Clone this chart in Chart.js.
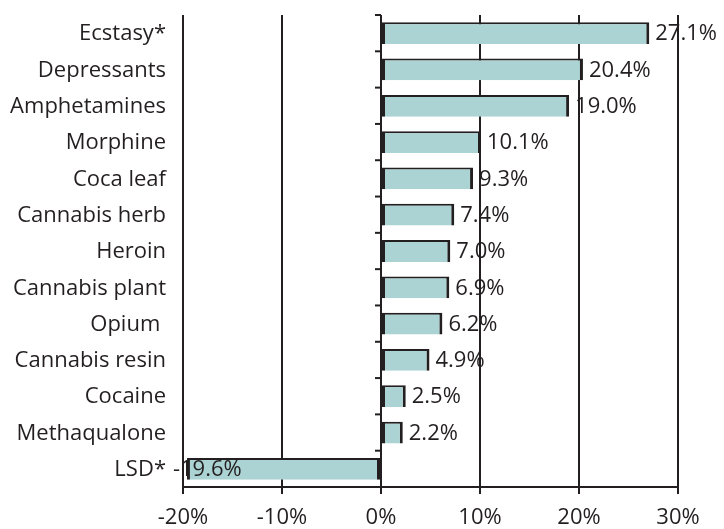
<!DOCTYPE html>
<html>
<head>
<meta charset="utf-8">
<script src="https://cdn.jsdelivr.net/npm/chart.js@4"></script>
<style>
  html, body { margin: 0; padding: 0; background: #fff; }
  #wrap { width: 724px; height: 529px; }
</style>
</head>
<body>
<div id="wrap"><canvas id="chart" width="724" height="529"></canvas></div>
<script>
const drugs = ['Ecstasy*', 'Depressants', 'Amphetamines', 'Morphine', 'Coca leaf', 'Cannabis herb',
  'Heroin', 'Cannabis plant', 'Opium ', 'Cannabis resin', 'Cocaine', 'Methaqualone', 'LSD*'];
const changes = [27.1, 20.4, 19.0, 10.1, 9.3, 7.4, 7.0, 6.9, 6.2, 4.9, 2.5, 2.2, -19.6];
const xTicks = [-20, -10, 0, 10, 20, 30];

const ink = '#231f20';
const fontName = '"Open Sans", "DejaVu Sans", sans-serif';

// category names, tick marks on the zero axis, value labels
const extras = {
  id: 'extras',
  afterDatasetsDraw(chart) {
    const ctx = chart.ctx;
    const area = chart.chartArea;
    const yScale = chart.scales.y;
    const x0 = chart.scales.x.getPixelForValue(0);
    const n = drugs.length;
    ctx.save();
    ctx.strokeStyle = ink;
    ctx.lineWidth = 2;
    for (let i = 0; i <= n; i++) {
      const y = area.top + i * (area.bottom - area.top) / n;
      ctx.beginPath();
      ctx.moveTo(x0 - 6, y);
      ctx.lineTo(x0, y);
      ctx.stroke();
    }
    ctx.fillStyle = ink;
    ctx.font = '22px ' + fontName;
    ctx.textBaseline = 'middle';

    ctx.textAlign = 'right';
    drugs.forEach((d, i) => {
      ctx.fillText(d, area.left - 17, yScale.getPixelForValue(i) + 1);
    });

    ctx.textAlign = 'left';
    const meta = chart.getDatasetMeta(0);
    meta.data.forEach((bar, i) => {
      const v = changes[i];
      const txt = v.toFixed(1) + '%';
      const x = v >= 0 ? bar.x + 6 : bar.x - 14;
      ctx.fillText(txt, x, bar.y + 1);
    });
    ctx.restore();
  }
};

new Chart(document.getElementById('chart'), {
  type: 'bar',
  data: {
    labels: drugs,
    datasets: [{
      data: changes,
      backgroundColor: '#acd3d3',
      borderColor: ink,
      borderWidth: { left: 3, right: 3, top: 2, bottom: 0 },
      borderSkipped: false,
      barPercentage: 0.6,
      categoryPercentage: 1
    }]
  },
  options: {
    indexAxis: 'y',
    responsive: false,
    animation: false,
    layout: { padding: { left: 0, right: 46, top: 15, bottom: 0 } },
    plugins: {
      legend: { display: false },
      tooltip: { enabled: false }
    },
    scales: {
      x: {
        min: -20,
        max: 30,
        afterBuildTicks(scale) {
          scale.ticks = xTicks.map(v => ({ value: v }));
        },
        afterFit(scale) { scale.height = 42; },
        ticks: {
          color: ink,
          font: { family: fontName, size: 22 },
          padding: 11,
          callback: v => v + '%'
        },
        grid: {
          color: ink,
          lineWidth: 2,
          tickLength: 7,
          tickColor: ink
        },
        border: { display: true, color: ink, width: 2 }
      },
      y: {
        afterFit(scale) { scale.width = 183; },
        ticks: { display: false },
        grid: { display: false },
        border: { display: false }
      }
    }
  },
  plugins: [extras]
});
</script>
</body>
</html>
